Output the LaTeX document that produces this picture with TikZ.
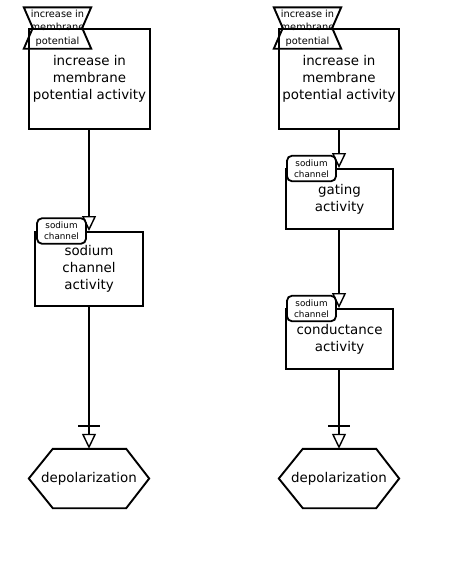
\documentclass[tikz,border=0pt]{standalone}
\usepackage{fontspec}
\setmainfont{DejaVu Sans}
\usetikzlibrary{arrows.meta,calc}
\begin{document}
\begin{tikzpicture}[x=1pt,y=-1pt,
 proc/.style={draw,line width=1.9pt,rectangle,inner sep=0pt,align=center,font=\fontsize{13.4}{17}\selectfont},
 tagbox/.style={draw,fill=white,line width=1.8pt,rounded corners=5pt,inner sep=0pt,minimum width=49pt,minimum height=25.5pt,align=center,font=\fontsize{8.8}{11}\selectfont},
 hgtext/.style={inner sep=0pt,minimum width=67pt,minimum height=41pt,align=center,font=\fontsize{9.8}{13.5}\selectfont},
 hexnode/.style={inner sep=0pt,minimum width=120pt,minimum height=59pt,font=\fontsize{13.4}{17}\selectfont},
 shapeline/.style={line width=1.9pt,line join=miter},
 conn/.style={line width=1.4pt,-{Triangle[open,length=15pt,width=14pt,line width=1.4pt]}},
 barline/.style={line width=1.4pt}
]
\useasboundingbox (0,0) rectangle (453,562);

% ---------- left column ----------
\node[proc,minimum width=121pt,minimum height=100pt] (a1) at (89.5,79) {increase in\\membrane\\potential activity};
\node[hgtext] (ha) at (57.5,28) {};
\draw[shapeline] (ha.north west) -- (ha.north east) -- ($(ha.east)+(-9,0)$) -- (ha.south east) -- (ha.south west) -- ($(ha.west)+(9,0)$) -- cycle;
\node[hgtext] (hat) at (ha) {increase in\\membrane\\potential};

\node[proc,minimum width=108pt,minimum height=74pt] (a2) at (89,269) {sodium\\channel\\activity};

\node[hexnode] (d1) at (89,478.5) {depolarization};
\draw[shapeline] (d1.west) -- ($(d1.north west)+(24,0)$) -- ($(d1.north east)+(-23,0)$) -- (d1.east) -- ($(d1.south east)+(-23,0)$) -- ($(d1.south west)+(24,0)$) -- cycle;

\draw[conn] (a1.south -| a2.north) -- (a2.north);
\node[tagbox] (ta) at (61.5,231) {sodium\\channel};
\draw[conn] (a2.south) -- (d1.north);
\coordinate (ba) at ($(d1.north)+(0,-23)$);
\draw[barline] ($(ba)+(-11,0)$) -- ($(ba)+(11,0)$);

% ---------- right column ----------
\node[proc,minimum width=120pt,minimum height=100pt] (b1) at (339,79) {increase in\\membrane\\potential activity};
\node[hgtext] (hb) at (307.5,28) {};
\draw[shapeline] (hb.north west) -- (hb.north east) -- ($(hb.east)+(-9,0)$) -- (hb.south east) -- (hb.south west) -- ($(hb.west)+(9,0)$) -- cycle;
\node[hgtext] (hbt) at (hb) {increase in\\membrane\\potential};

\node[proc,minimum width=107pt,minimum height=60pt] (b2) at (339.5,199) {gating\\activity};
\node[proc,minimum width=107pt,minimum height=60pt] (b3) at (339.5,339) {conductance\\activity};

\node[hexnode] (d2) at (339,478.5) {depolarization};
\draw[shapeline] (d2.west) -- ($(d2.north west)+(24,0)$) -- ($(d2.north east)+(-23,0)$) -- (d2.east) -- ($(d2.south east)+(-23,0)$) -- ($(d2.south west)+(24,0)$) -- cycle;

\draw[conn] (b1.south) -- (b1.south |- b2.north);
\draw[conn] (b2.south -| b1.south) -- (b1.south |- b3.north);
\node[tagbox] (tb) at (311.5,168.5) {sodium\\channel};
\node[tagbox] (tc) at (311.5,308.5) {sodium\\channel};
\draw[conn] (b3.south -| b1.south) -- (d2.north);
\coordinate (bb) at ($(d2.north)+(0,-23)$);
\draw[barline] ($(bb)+(-11,0)$) -- ($(bb)+(11,0)$);
\end{tikzpicture}
\end{document}
